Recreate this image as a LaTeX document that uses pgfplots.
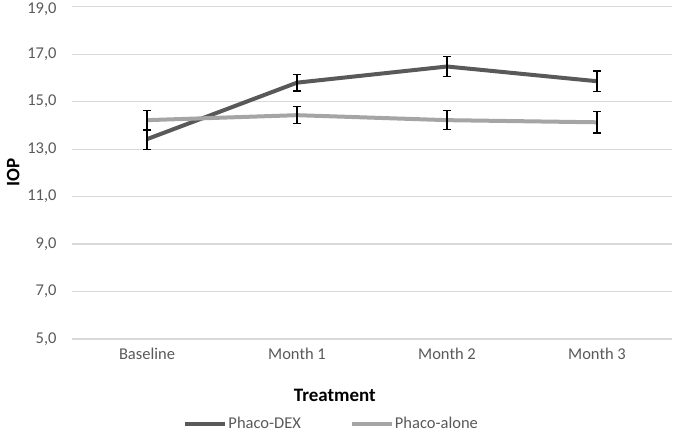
\documentclass[border=0pt]{standalone}
\usepackage{pgfplots}
\pgfplotsset{compat=1.18}
\usepackage{fontspec}
\setmainfont{Carlito}
\definecolor{dexc}{HTML}{595959}
\definecolor{alonec}{HTML}{A5A5A5}
\definecolor{gridc}{HTML}{D9D9D9}
\definecolor{tickc}{HTML}{595959}
\begin{document}
\begin{tikzpicture}
\path[use as bounding box] (0,0) rectangle (673bp,433bp);
\begin{axis}[
  at={(72bp,94bp)}, anchor=south west,
  scale only axis, width=600bp, height=332.3bp,
  xmin=-0.5, xmax=3.5, ymin=5, ymax=19,
  axis line style={draw=none},
  xtick={0,1,2,3},
  xticklabels={Baseline,Month 1,Month 2,Month 3},
  ytick={5,7,9,11,13,15,17},
  extra y ticks={19},
  extra y tick style={grid=major, yticklabel style={yshift=-2.5bp}},
  major tick length=0pt,
  ymajorgrids, grid style={gridc, line width=1.2bp},
  yticklabel={\pgfmathprintnumber[fixed,fixed zerofill,precision=1,use comma]{\tick}},
  /pgf/number format/assume math mode=true,
  tick label style={font=\fontsize{16.5bp}{18bp}\selectfont, text=tickc},
  yticklabel style={xshift=-12bp},
  xticklabel style={yshift=-6bp},
  xlabel={Treatment},
  xlabel style={at={(axis description cs:0.438,-0.1685)}, anchor=center, font=\bfseries\fontsize{19bp}{21bp}\selectfont},
  ylabel={IOP},
  ylabel style={at={(axis description cs:-0.098,0.5)}, anchor=center, rotate=0, font=\bfseries\fontsize{19bp}{21bp}\selectfont},
  legend style={at={(axis description cs:0.432,-0.2558)}, anchor=center, draw=none, fill=none,
    font=\fontsize{16.5bp}{18bp}\selectfont, text=tickc, inner sep=0pt,
    nodes={inner sep=1bp},
    /tikz/every even column/.append style={column sep=48bp}},
  legend columns=2,
  legend image code/.code={\draw[#1, line width=4bp] (0bp,0bp) -- (40bp,0bp);},
  error bars/y dir=both, error bars/y explicit,
  error bars/error mark options={rotate=90, mark size=4bp, line width=1.2bp, black},
  error bars/error bar style={line width=1.2bp, black},
]
\addplot[dexc, line width=4bp, mark=none] coordinates {
  (0,13.42) +- (0,0.42)
  (1,15.80) +- (0,0.35)
  (2,16.48) +- (0,0.42)
  (3,15.86) +- (0,0.43)
};
\addlegendentry{Phaco-DEX}
\addplot[alonec, line width=4bp, mark=none] coordinates {
  (0,14.22) +- (0,0.42)
  (1,14.43) +- (0,0.36)
  (2,14.22) +- (0,0.41)
  (3,14.13) +- (0,0.45)
};
\addlegendentry{Phaco-alone}
\end{axis}
\end{tikzpicture}
\end{document}
